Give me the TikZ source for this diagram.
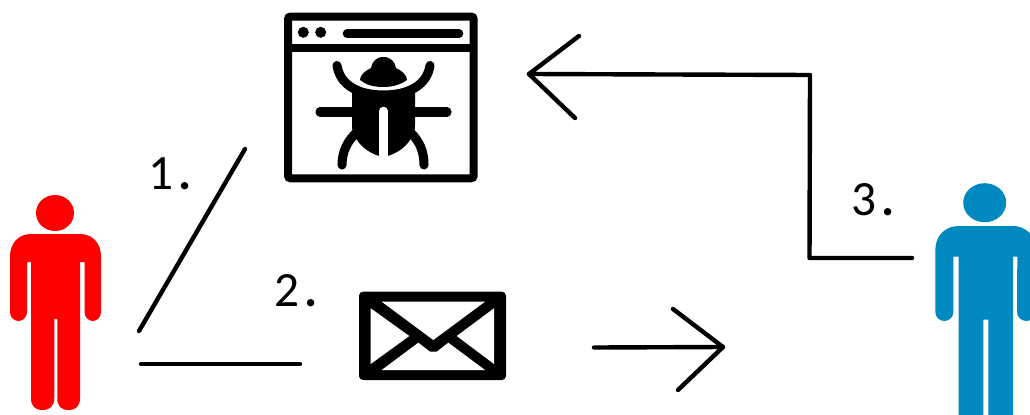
\documentclass[tikz,border=0pt]{standalone}
\usepackage{fontspec}
\setmainfont{Carlito}
\definecolor{personblue}{RGB}{0,136,192}
\newcommand{\numdot}[1]{#1\hspace{3.7pt}\textbf{.}}
\tikzset{
  wire/.style={draw=black,line width=3.3pt,line cap=round,line join=round},
  label/.style={font=\fontsize{37}{37}\selectfont,text=black,inner sep=0pt,anchor=base west},
  thick icon/.style={draw=black,line width=6.8pt,line cap=round}
}
\begin{document}
\begin{tikzpicture}[x=0.75pt,y=-0.75pt]
\useasboundingbox (0,0) rectangle (1030,414);
\begin{scope}
\clip (0,0) rectangle (1030,414);
% red person
\fill[red] (55,213) ellipse [x radius=19,y radius=18];
\fill[red] (31,234) -- (80,234) .. controls (93,234) and (101,244) .. (101,256)
  -- (101,312) arc [start angle=0,end angle=180,x radius=8.2,y radius=9] -- (84.7,262) -- (80,262)
  -- (80,398) .. controls (80,406) and (76,410) .. (68.5,410) .. controls (61,410) and (57.3,406) .. (57.3,398)
  -- (57.3,319) -- (54.3,319)
  -- (54.3,398) .. controls (54.3,406) and (50,410) .. (42.5,410) .. controls (35,410) and (31,406) .. (31,398)
  -- (31,262) -- (27,262) -- (27,312) arc [start angle=0,end angle=180,x radius=8.5,y radius=9]
  -- (10,256) .. controls (10,244) and (18,234) .. (31,234) -- cycle;
% blue person
\fill[personblue] (984.7,202.7) ellipse [x radius=21.5,y radius=19.5];
\fill[personblue] (958.7,226) -- (1013,226) .. controls (1026,226) and (1036,236) .. (1036,250)
  -- (1036,312) arc [start angle=0,end angle=180,x radius=9.5,y radius=9] -- (1017.3,256.7) -- (1013,256.7)
  -- (1013,420) -- (988.3,420) -- (988.3,319.7) -- (983.3,319.7) -- (983.3,420) -- (958.7,420)
  -- (958.7,256.7) -- (953.3,256.7) -- (953.3,312) arc [start angle=0,end angle=180,x radius=9,y radius=9]
  -- (935.3,250) .. controls (935.3,236) and (945,226) .. (958.7,226) -- cycle;
\end{scope}
% browser window
\draw[line width=6pt,rounded corners=2pt] (288,16.5) rectangle (473.7,178.3);
\draw[line width=6pt] (285,47.5) -- (477,47.5);
\fill (303.3,32.3) circle [radius=5.5];
\fill (320.7,32.3) circle [radius=5.5];
\draw[line width=6.4pt,line cap=round] (347,33.7) -- (459,33.7);
% bug
\fill (383.3,57) .. controls (391,57) and (395,62) .. (396,68) .. controls (402,71) and (407,75) .. (407,80)
  .. controls (400,85) and (392,87) .. (383.3,87) .. controls (374,87) and (366,85) .. (360,80)
  .. controls (360,75) and (365,71) .. (371,68) .. controls (372,62) and (376,57) .. (383.3,57) -- cycle;
\draw[thick icon] (337,65.5) .. controls (340,85) and (358,95) .. (383.5,95) .. controls (409,95) and (427,85) .. (430,65.5);
\fill (352,92) -- (415,92) -- (415,125) .. controls (415,130) and (414,133) .. (413,135) .. controls (408,145) and (400,152) .. (387.7,156)
  -- (379,156) .. controls (367,152) and (359,145) .. (354,135) .. controls (353,133) and (352,130) .. (352,125) -- cycle;
\draw[line width=6.5pt,white,line cap=round] (383.4,111) -- (383.4,160);
\fill[white] (379,156) rectangle (387.7,160);
\draw[thick icon] (320,112) -- (352,112);
\draw[thick icon] (415,112) -- (447,112);
\draw[thick icon] (358,131) .. controls (347,141) and (342,152) .. (342,165);
\draw[thick icon] (409,131) .. controls (420,141) and (424,152) .. (424,165);
% envelope
\fill[rounded corners=3pt] (359,291.7) rectangle (506,380);
\fill[white] (381.7,301.7) -- (485,301.7) -- (433.3,340) -- cycle;
\fill[white] (370.7,308.3) -- (409.3,336) -- (370.7,364) -- cycle;
\fill[white] (494,308.3) -- (456.7,336) -- (494,364) -- cycle;
\fill[white] (381.7,370) -- (418.3,342.7) -- (430,351.7) -- (436.7,351.7) -- (448.3,342.7) -- (485,370) -- cycle;
% connectors
\coordinate (a1) at (245,149); \coordinate (a2) at (139,331);
\draw[wire] (a1) -- (a2);
\coordinate (b1) at (141,364); \coordinate (b2) at (300,364);
\draw[wire] (b1) -- (b2);
\coordinate (c1) at (594,347.5); \coordinate (c2) at (723,347);
\coordinate (c3) at (673,309); \coordinate (c4) at (678,390);
\draw[wire] (c1) -- (c2);
\draw[wire] (c3) -- (c2) -- (c4);
\coordinate (d1) at (912,258); \coordinate (d2) at (809.5,258); \coordinate (d3) at (810,75); \coordinate (d4) at (529,74);
\coordinate (d5) at (579,36); \coordinate (d6) at (575,118);
\draw[wire] (d1) -- (d2) -- (d3) -- (d4);
\draw[wire] (d5) -- (d4) -- (d6);
% labels
\node[label] (n1) at (148,189) {\numdot{1}};
\node[label] (n2) at (274,306) {\numdot{2}};
\node[label] (n3) at (851,215) {\numdot{3}};
\end{tikzpicture}
\end{document}
